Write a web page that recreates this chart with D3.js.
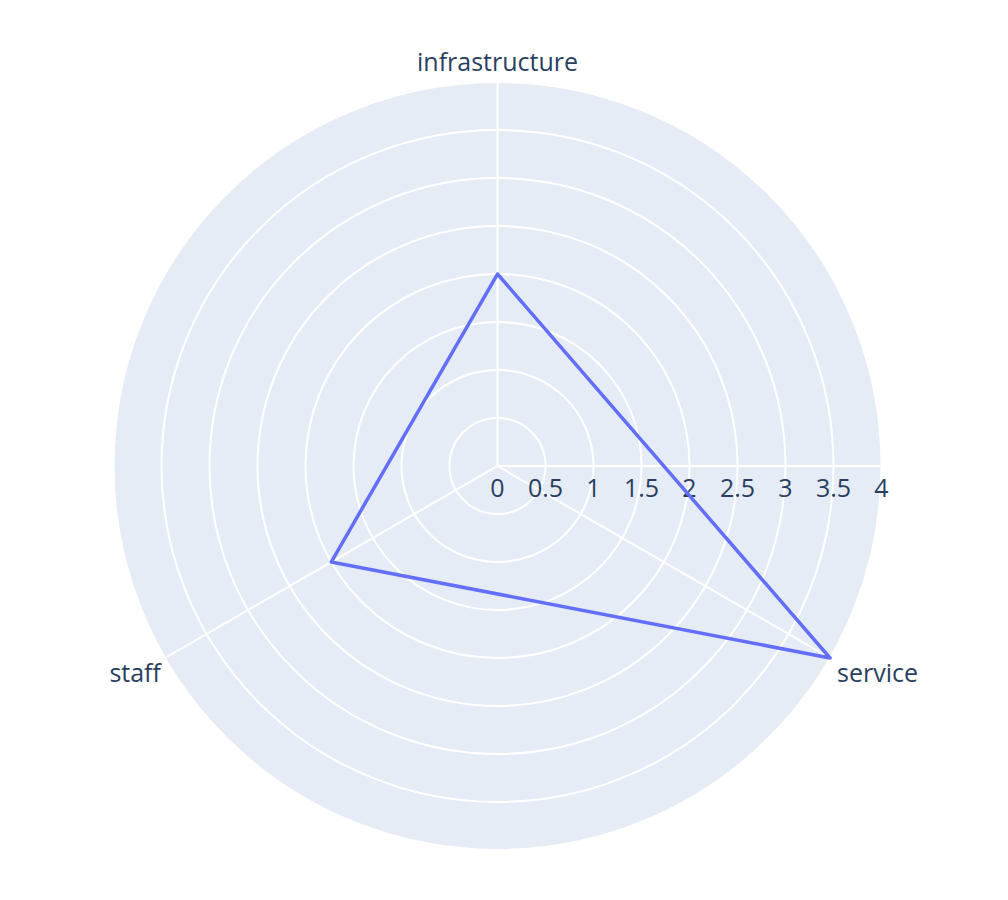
<!DOCTYPE html>
<html>
<head>
<meta charset="utf-8">
<script src="https://cdn.jsdelivr.net/npm/d3@7"></script>
<style>
  html, body { margin: 0; padding: 0; background: #fff; }
  svg { display: block; }
  text { font-family: "Open Sans", "Noto Sans", sans-serif; fill: #2a3f5f; }
</style>
</head>
<body>
<svg id="chart" width="1008" height="900"></svg>
<script>
const categories = ["infrastructure", "service", "staff"];
const values = [2, 4, 2];
const radialTicks = [0, 0.5, 1, 1.5, 2, 2.5, 3, 3.5, 4];
const radialMax = 4;

const W = 1008, H = 900;
const cx = 497.5, cy = 466, R = 384;

const svg = d3.select("#chart");
const g = svg.append("g").attr("transform", `translate(${cx},${cy})`);

const r = d3.scaleLinear().domain([0, radialMax]).range([0, R]);
const angleOf = c => categories.indexOf(c) * 2 * Math.PI / categories.length;

// background disk
g.append("circle").attr("r", r(radialMax)).attr("fill", "#E5ECF6");

// radial gridline circles
g.selectAll("circle.grid").data(radialTicks.filter(t => t > 0))
  .join("circle").attr("class", "grid")
  .attr("r", d => r(d)).attr("fill", "none")
  .attr("stroke", "#fff").attr("stroke-width", 2);

// angular gridlines
g.selectAll("line.agrid").data(categories)
  .join("line").attr("class", "agrid")
  .attr("x1", 0).attr("y1", 0)
  .attr("x2", d => r(radialMax) * Math.sin(angleOf(d)))
  .attr("y2", d => -r(radialMax) * Math.cos(angleOf(d)))
  .attr("stroke", "#fff").attr("stroke-width", 2);

// radial axis line (angle 0 = east)
g.append("line").attr("x1", 0).attr("y1", 0).attr("x2", r(radialMax)).attr("y2", 0)
  .attr("stroke", "#fff").attr("stroke-width", 2);

// radial tick labels
g.selectAll("text.rtick").data(radialTicks)
  .join("text").attr("class", "rtick")
  .attr("x", d => r(d)).attr("y", 31)
  .attr("text-anchor", "middle")
  .style("font-size", "25px")
  .text(d => d3.format("~g")(d));

// trace
const line = d3.lineRadial()
  .angle((d, i) => angleOf(categories[i]))
  .radius(d => r(d))
  .curve(d3.curveLinearClosed);
g.append("path").datum(values)
  .attr("d", line)
  .attr("fill", "none")
  .attr("stroke", "#636efa")
  .attr("stroke-width", 3.5)
  .attr("stroke-linejoin", "round");

// angular labels
g.selectAll("text.alabel").data(categories)
  .join("text").attr("class", "alabel")
  .style("font-size", "25px")
  .each(function(d) {
    const a = angleOf(d);
    const x = r(radialMax) * Math.sin(a), y = -r(radialMax) * Math.cos(a);
    const s = Math.sin(a), c = Math.cos(a);
    const t = d3.select(this);
    let anchor = "middle", dx = 0, dy = 0;
    if (Math.abs(s) < 1e-6) { anchor = "middle"; dy = c > 0 ? -11 : 30; }
    else if (s > 0) { anchor = "start"; dx = 7; dy = c > 0 ? -4 : 24; }
    else { anchor = "end"; dx = -4; dy = c > 0 ? -4 : 24; }
    t.attr("x", x + dx).attr("y", y + dy).attr("text-anchor", anchor).text(d);
  });
</script>
</body>
</html>
